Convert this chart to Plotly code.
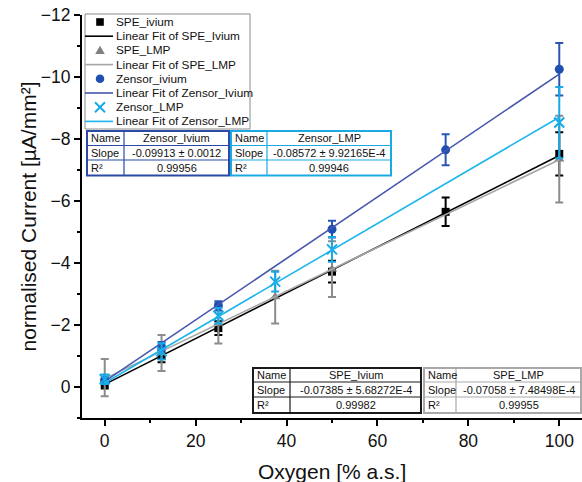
import numpy as np
import plotly.graph_objects as go

# ---------------- data ----------------
x_ivium = [0, 12.5, 25, 50, 75, 100]
x_lmp = [0, 12.5, 25, 37.5, 50, 100]

spe_ivium = [-0.10, -1.00, -1.90, -3.72, -5.65, -7.52]
spe_ivium_err = [0.15, 0.20, 0.22, 0.35, 0.46, 0.70]

spe_lmp = [-0.30, -1.10, -2.05, -2.90, -3.80, -7.35]
spe_lmp_err = [0.60, 0.58, 0.65, 0.85, 0.90, 1.40]

zensor_ivium = [-0.20, -1.30, -2.62, -5.09, -7.65, -10.25]
zensor_ivium_err = [0.10, 0.15, 0.15, 0.27, 0.50, 0.85]

zensor_lmp = [-0.25, -1.15, -2.30, -3.40, -4.44, -8.53]
zensor_lmp_err = [0.15, 0.26, 0.25, 0.32, 0.40, 1.15]

series_names = ["SPE_ivium", "SPE_LMP", "Zensor_ivium", "Zensor_LMP"]
fit_names = ["SPE_Ivium", "SPE_LMP", "Zensor_Ivium", "Zensor_LMP"]
fit_slopes = [-0.07385, -0.07058, -0.09913, -0.08572]
fit_slope_err = ["5.68272E-4", "7.48498E-4", "0.0012", "9.92165E-4"]
fit_r2 = ["0.99982", "0.99955", "0.99956", "0.99946"]

x_ticks = [0, 20, 40, 60, 80, 100]
y_ticks = [0, -2, -4, -6, -8, -10, -12]
x_title = "Oxygen [% a.s.]"
y_title = "normalised Current [µA/mm²]"

# ---------------- styles ----------------
FONT = "Liberation Sans, Arial, sans-serif"
W, H = 582, 482
ML, MR, MT, MB = 82, 0, 15, 64
PW, PH = W - ML - MR, H - MT - MB


def px(x):
    return (x - ML) / PW


def py(y):
    return (H - MB - y) / PH


xs_all = [x_ivium, x_lmp, x_ivium, x_lmp]
ys_all = [spe_ivium, spe_lmp, zensor_ivium, zensor_lmp]
es_all = [spe_ivium_err, spe_lmp_err, zensor_ivium_err, zensor_lmp_err]
marker_colors = ["#000000", "#7f7f7f", "#1f4fb0", "#17a9e6"]
err_colors = ["#000000", "#8c8c8c", "#2a55b5", "#17a9e6"]
fit_colors = ["#000000", "#a6a6a6", "#4656ad", "#1db5ec"]
symbols = ["square", "triangle-up", "circle", "x-thin"]
sizes = [8, 9, 9, 10]
table_colors = ["#1a1a1a", "#a9a9a9", "#2b4aa5", "#1aa9e2"]

fig = go.Figure()

for i in range(4):
    xs = np.array(xs_all[i], dtype=float)
    ys = np.array(ys_all[i], dtype=float)
    sym = symbols[i]
    mk = dict(symbol=sym, size=sizes[i], color=marker_colors[i])
    if sym == "x-thin":
        mk["line"] = dict(width=2, color=marker_colors[i])
    else:
        mk["line"] = dict(width=0)
    fig.add_trace(go.Scatter(
        x=xs, y=ys, mode="markers", marker=mk, name=series_names[i],
        error_y=dict(type="data", array=es_all[i], visible=True,
                     color=err_colors[i], thickness=2, width=4),
        showlegend=False))
    # linear fit with the reported slope, intercept from data means
    slope = fit_slopes[i]
    intercept = ys.mean() - slope * xs.mean()
    xf = np.array([xs.min(), xs.max()])
    fig.add_trace(go.Scatter(
        x=xf, y=intercept + slope * xf, mode="lines",
        line=dict(color=fit_colors[i], width=1.6),
        name="Linear Fit of " + fit_names[i], showlegend=False))

shapes = []
annots = []

# ---------------- axis titles ----------------
annots.append(dict(x=px(28), y=0.5, xref="paper", yref="paper", text=y_title,
                   textangle=-90, showarrow=False, xanchor="center", yanchor="middle",
                   font=dict(family=FONT, size=21, color="#111")))
annots.append(dict(x=0.5, y=py(471), xref="paper", yref="paper", text=x_title,
                   showarrow=False, xanchor="center", yanchor="middle",
                   font=dict(family=FONT, size=21, color="#111")))

# ---------------- manual legend ----------------
leg_x0, leg_x1, leg_y0, leg_y1 = 85, 250, 14, 129
shapes.append(dict(type="rect", xref="paper", yref="paper",
                   x0=px(leg_x0), x1=px(leg_x1), y0=py(leg_y1), y1=py(leg_y0),
                   line=dict(color="#8a8a8a", width=1), fillcolor="white", layer="above"))
row0, step = 22, 14.2
sym_cx = 100
for i in range(4):
    # marker row
    cy = row0 + step * (2 * i)
    c = marker_colors[i]
    s = 3.8
    if symbols[i] == "square":
        shapes.append(dict(type="rect", xref="paper", yref="paper",
                           x0=px(sym_cx - s), x1=px(sym_cx + s), y0=py(cy + s), y1=py(cy - s),
                           fillcolor=c, line=dict(width=0), layer="above"))
    elif symbols[i] == "triangle-up":
        path = "M {} {} L {} {} L {} {} Z".format(
            px(sym_cx - 4.8), py(cy + 3.6), px(sym_cx + 4.8), py(cy + 3.6), px(sym_cx), py(cy - 4.6))
        shapes.append(dict(type="path", xref="paper", yref="paper", path=path,
                           fillcolor=c, line=dict(width=0), layer="above"))
    elif symbols[i] == "circle":
        shapes.append(dict(type="circle", xref="paper", yref="paper",
                           x0=px(sym_cx - 4.3), x1=px(sym_cx + 4.3), y0=py(cy + 4.3), y1=py(cy - 4.3),
                           fillcolor=c, line=dict(width=0), layer="above"))
    else:
        for (a, b) in [(-1, 1), (1, -1)]:
            shapes.append(dict(type="line", xref="paper", yref="paper",
                               x0=px(sym_cx - 5), x1=px(sym_cx + 5),
                               y0=py(cy + 5 * a), y1=py(cy + 5 * b),
                               line=dict(color=c, width=2), layer="above"))
    annots.append(dict(x=px(114), y=py(cy), xref="paper", yref="paper",
                       text=series_names[i], showarrow=False, xanchor="left", yanchor="middle",
                       font=dict(family=FONT, size=11.8, color="#111")))
    # fit row
    cy2 = row0 + step * (2 * i + 1)
    shapes.append(dict(type="line", xref="paper", yref="paper",
                       x0=px(leg_x0), x1=px(113), y0=py(cy2), y1=py(cy2),
                       line=dict(color=fit_colors[i], width=1.6), layer="above"))
    annots.append(dict(x=px(114), y=py(cy2), xref="paper", yref="paper",
                       text="Linear Fit of " + fit_names[i], showarrow=False,
                       xanchor="left", yanchor="middle",
                       font=dict(family=FONT, size=11.8, color="#111")))


# ---------------- result tables ----------------
def add_table(x0, xd, x1, rows, color, idx):
    labels = ["Name", "Slope", "R²"]
    values = [fit_names[idx], "{} ± {}".format(fit_slopes[idx], fit_slope_err[idx]), fit_r2[idx]]
    shapes.append(dict(type="rect", xref="paper", yref="paper",
                       x0=px(x0), x1=px(x1), y0=py(rows[-1]), y1=py(rows[0]),
                       line=dict(color=color, width=2), fillcolor="white", layer="above"))
    shapes.append(dict(type="line", xref="paper", yref="paper",
                       x0=px(xd), x1=px(xd), y0=py(rows[-1]), y1=py(rows[0]),
                       line=dict(color=color, width=1.2), layer="above"))
    for r in rows[1:-1]:
        shapes.append(dict(type="line", xref="paper", yref="paper",
                           x0=px(x0), x1=px(x1), y0=py(r), y1=py(r),
                           line=dict(color=color, width=1.2), layer="above"))
    for k in range(3):
        cy = (rows[k] + rows[k + 1]) / 2
        annots.append(dict(x=px(x0 + 1.5), y=py(cy), xref="paper", yref="paper", text=labels[k],
                           showarrow=False, xanchor="left", yanchor="middle",
                           font=dict(family=FONT, size=11, color="#111")))
        annots.append(dict(x=px((xd + x1) / 2), y=py(cy), xref="paper", yref="paper",
                           text=values[k], showarrow=False, xanchor="center", yanchor="middle",
                           font=dict(family=FONT, size=11, color="#111")))


add_table(87, 124, 229, [131, 145.5, 160, 175.5], table_colors[2], 2)
add_table(231, 267, 391, [131, 145.5, 160, 175.5], table_colors[3], 3)
add_table(253, 290, 421, [368, 382, 397, 413], table_colors[0], 0)
add_table(424, 456, 581, [368, 382, 397, 413], table_colors[1], 1)

axis_common = dict(
    showline=True, linecolor="black", linewidth=2, mirror=False,
    ticks="outside", tickcolor="black", tickwidth=2, ticklen=6,
    showgrid=False, zeroline=False, automargin=False,
    tickfont=dict(family=FONT, size=17.5, color="#111"),
)

fig.update_layout(
    width=W, height=H, autosize=False,
    margin=dict(l=ML, r=MR, t=MT, b=MB, pad=0),
    paper_bgcolor="white", plot_bgcolor="white",
    showlegend=False,
    shapes=shapes, annotations=annots,
    xaxis=dict(range=[-5, 105], tickmode="array", tickvals=x_ticks,
               minor=dict(dtick=10, tick0=0, ticks="outside", ticklen=3, tickwidth=1.5, tickcolor="black"),
               **axis_common),
    yaxis=dict(range=[1, -12], tickmode="array", tickvals=y_ticks,
               minor=dict(dtick=1, tick0=0, ticks="outside", ticklen=3, tickwidth=1.5, tickcolor="black"),
               **axis_common),
)

fig.write_html("out.html",
               config={"displayModeBar": False},
               post_script="document.body.style.margin='0';document.body.style.padding='0';"
                           "document.documentElement.style.overflow='hidden';")
